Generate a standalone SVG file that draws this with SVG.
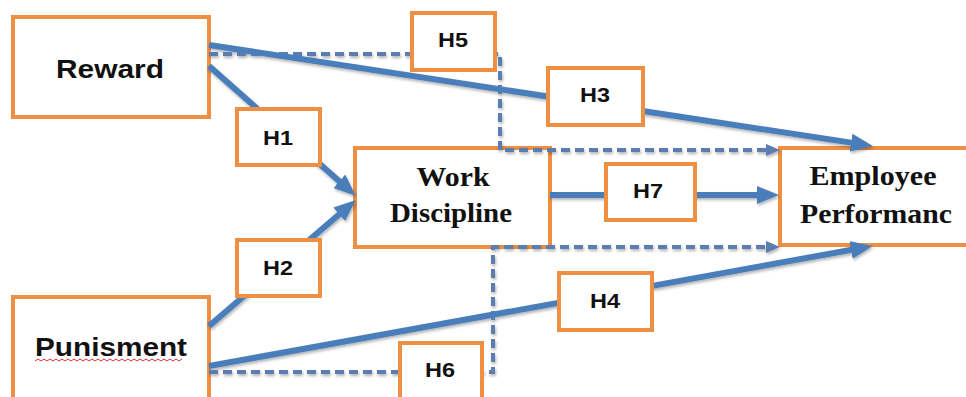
<svg xmlns="http://www.w3.org/2000/svg" width="966" height="397" viewBox="0 0 966 397">
<defs>
<style>
.box{fill:#fff;stroke:#EE8F43;stroke-width:4}
.sans{font-family:"Liberation Sans",Arial,sans-serif;font-weight:bold;fill:#111;text-anchor:middle}
.serif{font-family:"Liberation Serif","Times New Roman",serif;font-weight:bold;fill:#111;text-anchor:middle}
.solid{fill:none;stroke:#4A7EBB;stroke-width:6}
.dash{fill:none;stroke:#5B7DB1;stroke-width:4;stroke-dasharray:9 5}
</style>
<marker id="arr" markerUnits="userSpaceOnUse" markerWidth="22" markerHeight="18" refX="5" refY="9" orient="auto"><path d="M0,0 L22,9 L0,18 z" fill="#4A7EBB"/></marker>
<marker id="arrs" markerUnits="userSpaceOnUse" markerWidth="14" markerHeight="12" refX="3" refY="6" orient="auto"><path d="M0,0 L14,6 L0,12 z" fill="#5B7DB1"/></marker>
<filter id="sh" x="-10%" y="-10%" width="120%" height="120%"><feDropShadow dx="1" dy="2" stdDeviation="1.5" flood-color="#000" flood-opacity="0.3"/></filter>
</defs>
<rect width="966" height="397" fill="#fff"/>
<g id="reward"><rect class="box" x="13" y="17" width="196" height="100"/><text class="sans" x="110" y="78" font-size="26" textLength="108" lengthAdjust="spacingAndGlyphs">Reward</text></g>
<g id="punisment"><rect class="box" x="13" y="297" width="196" height="104"/><text class="sans" x="111" y="356" font-size="26" textLength="152" lengthAdjust="spacingAndGlyphs">Punisment</text><path d="M35,361 l3,-2 l3,2 l3,-2 l3,2 l3,-2 l3,2 l3,-2 l3,2 l3,-2 l3,2 l3,-2 l3,2 l3,-2 l3,2 l3,-2 l3,2 l3,-2 l3,2 l3,-2 l3,2 l3,-2 l3,2 l3,-2 l3,2 l3,-2 l3,2 l3,-2 l3,2 l3,-2 l3,2 l3,-2 l3,2 l3,-2 l3,2 l3,-2 l3,2 l3,-2 l3,2 l3,-2 l3,2 l3,-2 l3,2 l3,-2 l3,2 l3,-2 l3,2 l3,-2 l3,2 l3,-2" fill="none" stroke="#D33" stroke-width="1"/></g>
<g id="work_discipline"><rect class="box" x="355" y="148" width="195" height="99"/><text class="serif" x="453" y="186" font-size="27" textLength="73" lengthAdjust="spacingAndGlyphs">Work</text><text class="serif" x="451" y="222" font-size="27" textLength="122" lengthAdjust="spacingAndGlyphs">Discipline</text></g>
<g id="employee_performance"><rect class="box" x="780" y="148" width="190" height="97"/><text class="serif" x="873" y="185" font-size="27" textLength="127" lengthAdjust="spacingAndGlyphs">Employee</text><text class="serif" x="876" y="223" font-size="27" textLength="152" lengthAdjust="spacingAndGlyphs">Performanc</text></g>
<g id="connectors" filter="url(#sh)">
<path class="dash" d="M209,54 H500 V150 H769" marker-end="url(#arrs)"/>
<path class="dash" d="M209,372 H493 V247 H769" marker-end="url(#arrs)"/>
<path class="solid" d="M209,45 L856,143.4" marker-end="url(#arr)"/>
<path class="solid" d="M209,66 L343,184.6" marker-end="url(#arr)"/>
<path class="solid" d="M209,326 L343,211" marker-end="url(#arr)"/>
<path class="solid" d="M209,366 L856,249" marker-end="url(#arr)"/>
<path class="solid" d="M550,195 H762" marker-end="url(#arr)"/>
</g>
<g id="h5"><rect class="box" x="412" y="13" width="83" height="57"/><text class="sans" x="453" y="47" font-size="21" textLength="30" lengthAdjust="spacingAndGlyphs">H5</text></g>
<g id="h1"><rect class="box" x="237" y="109" width="83" height="56"/><text class="sans" x="278" y="145" font-size="21" textLength="30" lengthAdjust="spacingAndGlyphs">H1</text></g>
<g id="h3"><rect class="box" x="548" y="68" width="95" height="57"/><text class="sans" x="595" y="102" font-size="21" textLength="30" lengthAdjust="spacingAndGlyphs">H3</text></g>
<g id="h7"><rect class="box" x="606" y="164" width="89" height="56"/><text class="sans" x="648" y="198" font-size="21" textLength="30" lengthAdjust="spacingAndGlyphs">H7</text></g>
<g id="h2"><rect class="box" x="237" y="240" width="83" height="56"/><text class="sans" x="278" y="275" font-size="21" textLength="30" lengthAdjust="spacingAndGlyphs">H2</text></g>
<g id="h4"><rect class="box" x="559" y="273" width="93" height="57"/><text class="sans" x="605" y="308" font-size="21" textLength="30" lengthAdjust="spacingAndGlyphs">H4</text></g>
<g id="h6"><rect class="box" x="400" y="343" width="82" height="58"/><text class="sans" x="440" y="377" font-size="21" textLength="30" lengthAdjust="spacingAndGlyphs">H6</text></g>
</svg>
